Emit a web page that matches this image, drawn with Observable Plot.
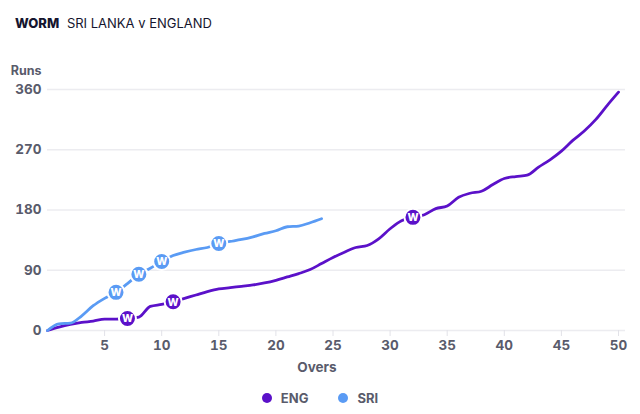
<!DOCTYPE html>
<html>
<head>
<meta charset="utf-8">
<script src="https://cdn.jsdelivr.net/npm/d3@7"></script>
<script src="https://cdn.jsdelivr.net/npm/@observablehq/plot@0.6"></script>
<style>
  body { margin: 0; background: #fff; font-family: Inter, "Noto Sans", sans-serif; }
  #title { height: 16px; padding: 15px 0 17px 15px; font-size: 13px; line-height: 16px; color: #15152e; }
  #title b { font-weight: 800; margin-right: 4px; }
  #chart svg { display: block; }
  #legend { display: flex; justify-content: center; gap: 30px; margin-top: 11px; line-height: 18px;
            font-size: 13px; font-weight: 700; color: #595b6b; }
  #legend span { display: inline-flex; align-items: center; }
  #legend i { width: 10px; height: 10px; border-radius: 50%; display: inline-block; margin-right: 9px; }
</style>
</head>
<body>
<div id="title"><b>WORM</b> SRI LANKA v ENGLAND</div>
<div id="chart"></div>
<div id="legend"></div>
<script>
// Cumulative runs at the end of each over (index = over number, starting at 0)
const engRuns = [0, 5, 9, 12, 14, 17, 17, 18, 20, 36, 39, 43, 48, 53, 58, 62, 64, 66, 68, 71,
  75, 80, 85, 91, 100, 109, 117, 124, 127, 137, 152, 164, 169, 173, 182, 186, 199, 205, 208, 218,
  227, 230, 232, 244, 255, 268, 284, 298, 315, 336, 356];
const sriRuns = [0, 10, 11, 22, 37, 48, 57, 70, 84, 93, 103, 112, 117, 121, 124, 130, 133, 136, 140,
  145, 149, 155, 156, 161, 167];

// Overs in which a wicket fell
const engWickets = [7, 11, 32];
const sriWickets = [6, 8, 10, 15];

const teams = ["ENG", "SRI"];
const teamColors = ["#5b11c9", "#5a9bf4"];

const yTicks = [0, 90, 180, 270, 360];
const xTicks = [5, 10, 15, 20, 25, 30, 35, 40, 45, 50];

const rows = [
  ...engRuns.map((runs, over) => ({team: "ENG", over, runs})),
  ...sriRuns.map((runs, over) => ({team: "SRI", over, runs}))
];
const wickets = [
  ...engWickets.map(over => ({team: "ENG", over, runs: engRuns[over]})),
  ...sriWickets.map(over => ({team: "SRI", over, runs: sriRuns[over]}))
];

const grey = "#595b6b";

const chart = Plot.plot({
  width: 640,
  height: 330,
  marginTop: 41,
  marginBottom: 48,
  marginLeft: 47,
  marginRight: 22,
  style: {fontFamily: "Inter, 'Noto Sans', sans-serif", background: "#fff"},
  x: {domain: [0, 50]},
  y: {domain: [0, 360]},
  color: {domain: teams, range: teamColors},
  marks: [
    Plot.ruleY(yTicks, {stroke: "#ececf0", strokeWidth: 1.5, insetRight: -7}),
    Plot.axisX({ticks: xTicks, tickSize: 6, tickPadding: 4, stroke: "#e2e2e8", fill: grey,
      fontSize: 13.5, fontWeight: 700, label: null}),
    Plot.axisY({ticks: yTicks, tickSize: 0, tickPadding: 6, fill: grey,
      fontSize: 13.5, fontWeight: 700, label: null}),
    Plot.text(["Runs"], {frameAnchor: "top-left", dx: -6, dy: -23, textAnchor: "end",
      fill: grey, fontSize: 12.5, fontWeight: 700}),
    Plot.text(["Overs"], {frameAnchor: "bottom", dx: -16, dy: 41, fill: grey,
      fontSize: 13.5, fontWeight: 700}),
    Plot.line(rows, {x: "over", y: "runs", z: "team", stroke: "team", strokeWidth: 2.8,
      curve: "monotone-x", strokeLinejoin: "round", strokeLinecap: "round"}),
    Plot.dot(wickets, {x: "over", y: "runs", r: 8.5, fill: "team", stroke: "#fff", strokeWidth: 2}),
    Plot.text(wickets, {x: "over", y: "runs", text: () => "W", fill: "#fff",
      fontSize: 10.5, fontWeight: 800, dy: 0.5})
  ]
});
document.getElementById("chart").append(chart);

const legend = document.getElementById("legend");
teams.forEach((t, i) => {
  const s = document.createElement("span");
  s.innerHTML = `<i style="background:${teamColors[i]}"></i>${t}`;
  legend.append(s);
});
</script>
</body>
</html>
